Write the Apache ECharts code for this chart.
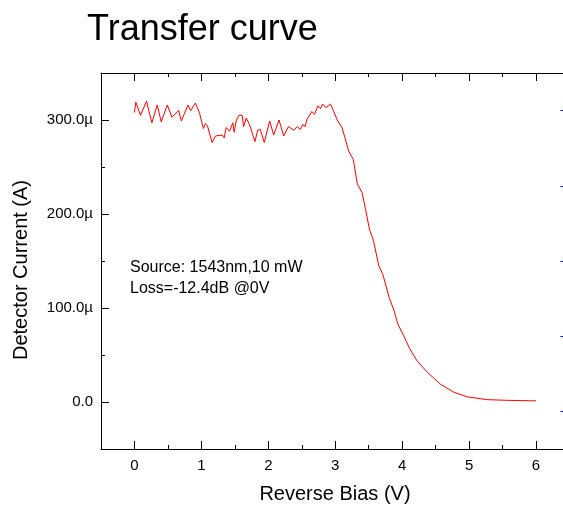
<!DOCTYPE html>
<html>
<head>
<meta charset="utf-8">
<title>Transfer curve</title>
<script src="https://cdn.jsdelivr.net/npm/echarts@6/dist/echarts.min.js"></script>
<style>
  html, body { margin: 0; padding: 0; background: #fff; }
  #chart { width: 563px; height: 505px; }
</style>
</head>
<body>
<div id="chart"></div>
<script>
// Reverse bias sweep (V)
const biasV = [
  0.00, 0.02, 0.09, 0.18, 0.26, 0.34, 0.40, 0.49, 0.56, 0.66,
  0.70, 0.80, 0.84, 0.91, 0.97, 1.03, 1.06, 1.09, 1.16, 1.21,
  1.31, 1.34, 1.37, 1.42, 1.47, 1.49, 1.52, 1.56, 1.61, 1.63,
  1.67, 1.72, 1.80, 1.84, 1.88, 1.94, 2.02, 2.08, 2.16, 2.23,
  2.30, 2.38, 2.43, 2.48, 2.51, 2.55, 2.58, 2.65, 2.69, 2.74,
  2.78, 2.81, 2.86, 2.93, 3.03, 3.10, 3.15, 3.20, 3.27, 3.33,
  3.40, 3.45, 3.51, 3.57, 3.65, 3.71, 3.81, 3.87, 3.94, 4.02,
  4.11, 4.22, 4.32, 4.37, 4.57, 4.77, 4.97, 5.27, 5.56, 6.00
];
// Detector current (µA)
const currentUA = [
  308, 319, 305, 320, 297, 316, 298, 316, 303, 310,
  299, 316, 310, 318, 308, 291, 296, 294, 276, 283,
  284, 281, 292, 288, 297, 287, 299, 305, 305, 293,
  302, 295, 277, 289, 290, 276, 299, 284, 300, 283,
  293, 289, 293, 290, 295, 293, 301, 309, 306, 315,
  312, 317, 313, 317, 300, 292, 280, 267, 258, 232,
  223, 206, 184, 172, 145, 136, 110, 99, 82, 71,
  57, 44, 36, 32, 19, 10.5, 5.5, 2.5, 1.8, 1.2
];
// Tick values
const xMajor = [0, 1, 2, 3, 4, 5, 6];
const xMinor = [0.5, 1.5, 2.5, 3.5, 4.5, 5.5];
const yMajor = [0, 100, 200, 300];
const yMinor = [50, 150, 250];
const rightTicks = [0.5, 1.5, 2.5, 3.5, 4.5];

const FONT = '"Liberation Sans", Arial, sans-serif';
const black = '#000000';
const X_RANGE = { min: -0.5, max: 6.5, interval: 0.5 };
const Y_RANGE = { min: -50, max: 350, interval: 50 };

const chart = echarts.init(document.getElementById('chart'), null, { renderer: 'canvas' });

// Axis carrying the line, long inward ticks and labels
function majorAxis(position, range, ticks, label) {
  return Object.assign({
    type: 'value', position,
    axisLine: { show: true, onZero: false, lineStyle: { color: black, width: 1 } },
    axisTick: { show: true, inside: true, length: 8, customValues: ticks, lineStyle: { color: black, width: 1 } },
    splitLine: { show: false },
    axisLabel: label ? Object.assign({ customValues: ticks }, label) : { show: false }
  }, range);
}
// Overlay axis that only draws the short intermediate ticks
function minorAxis(position, range, ticks) {
  return Object.assign({
    type: 'value', position,
    axisLine: { show: false, onZero: false },
    axisTick: { show: true, inside: true, length: 4, customValues: ticks, lineStyle: { color: black, width: 1 } },
    splitLine: { show: false },
    axisLabel: { show: false }
  }, range);
}

chart.setOption({
  animation: false,
  backgroundColor: '#ffffff',
  grid: { left: 101, top: 73, width: 468.5, height: 376, containLabel: false, outerBoundsMode: 'none' },
  xAxis: [
    majorAxis('bottom', X_RANGE, xMajor, {
      margin: 9, fontSize: 15, color: black, fontFamily: FONT,
      formatter: v => String(Math.round(Number(v)))
    }),
    majorAxis('top', X_RANGE, xMajor, null),
    minorAxis('bottom', X_RANGE, xMinor),
    minorAxis('top', X_RANGE, xMinor)
  ],
  yAxis: [
    majorAxis('left', Y_RANGE, yMajor, {
      margin: 8, fontSize: 15, color: black, fontFamily: FONT,
      formatter: v => {
        const n = Math.round(Number(v));
        return n === 0 ? '0.0' : n.toFixed(1) + 'µ';
      }
    }),
    minorAxis('left', Y_RANGE, yMinor),
    {
      type: 'value', position: 'right', min: 0, max: 5, interval: 1,
      axisLine: { show: false, onZero: false },
      axisTick: { show: true, inside: true, length: 9, customValues: rightTicks, lineStyle: { color: '#0000ff', width: 1 } },
      splitLine: { show: false },
      axisLabel: { show: false }
    }
  ],
  series: [
    {
      type: 'line',
      xAxisIndex: 0,
      yAxisIndex: 0,
      data: biasV.map((v, i) => [v, currentUA[i]]),
      showSymbol: false,
      smooth: false,
      lineStyle: { color: '#ff0000', width: 1 },
      z: 5
    }
  ],
  graphic: [
    {
      type: 'text', x: 87, y: 30,
      style: { text: 'Transfer curve', font: '36px ' + FONT, fill: black, verticalAlign: 'middle', align: 'left' }
    },
    {
      type: 'text', x: 130, y: 268,
      style: { text: 'Source: 1543nm,10 mW', font: '16px ' + FONT, fill: black, verticalAlign: 'middle', align: 'left' }
    },
    {
      type: 'text', x: 130, y: 289,
      style: { text: 'Loss=-12.4dB @0V', font: '16px ' + FONT, fill: black, verticalAlign: 'middle', align: 'left' }
    },
    {
      type: 'text', x: 335, y: 494,
      style: { text: 'Reverse Bias (V)', font: '20px ' + FONT, fill: black, verticalAlign: 'middle', align: 'center' }
    },
    {
      type: 'text', x: 21, y: 270, rotation: Math.PI / 2,
      style: { text: 'Detector Current (A)', font: '20px ' + FONT, fill: black, verticalAlign: 'middle', align: 'center' }
    }
  ]
});
</script>
</body>
</html>
